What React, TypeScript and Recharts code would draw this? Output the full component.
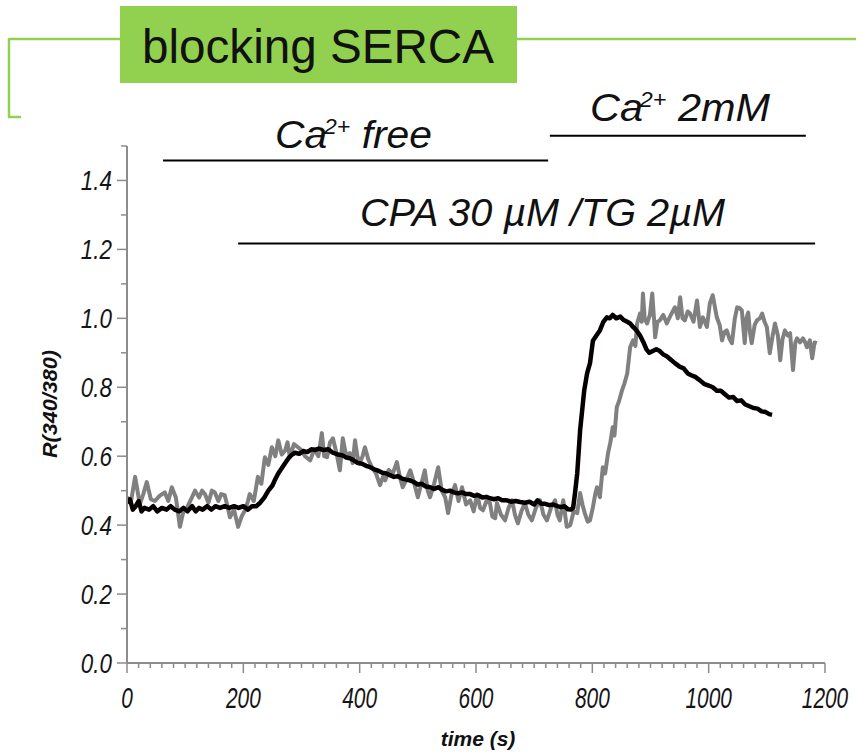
import { LineChart, Line, XAxis, YAxis, ReferenceLine } from "recharts";

const AXIS = "#8c8c8c";
const GREEN = "#92d050";
const FONT = "'Liberation Sans', Arial, Helvetica, sans-serif";

// black trace (time in s, ratio 340/380)
const blackTime = [
  0, 5, 10, 15, 20, 25, 30, 38, 45, 52, 60, 68, 75, 82, 90, 97, 104, 112, 118, 124,
  130, 138, 145, 152, 160, 168, 176, 184, 192, 200, 208, 215, 222, 229, 236, 243, 250, 254, 260, 266,
  272, 278, 284, 289, 296, 303, 310, 317, 323, 330, 338, 346, 354, 362, 370, 377, 383, 390, 397, 404,
  411, 418, 425, 432, 439, 446, 452, 459, 466, 473, 480, 486, 493, 500, 507, 514, 521, 528, 535, 542,
  549, 555, 562, 569, 576, 583, 590, 597, 604, 611, 618, 624, 631, 638, 645, 653, 660, 668, 676, 684,
  692, 700, 706, 712, 719, 726, 733, 740, 746, 752, 758, 763, 767, 770, 774, 779, 786, 791, 796, 801,
  807, 813, 819, 825, 830, 835, 841, 848, 854, 860, 865, 870, 876, 882, 888, 893, 898, 904, 910, 916,
  922, 928, 935, 942, 950, 957, 964, 970, 977, 985, 992, 1000, 1007, 1014, 1021, 1028, 1035, 1042, 1049, 1056,
  1063, 1070, 1077, 1084, 1091, 1098, 1104, 1109,
];
const blackRatio = [
  0.465, 0.475, 0.445, 0.455, 0.47, 0.44, 0.45, 0.445, 0.455, 0.44, 0.45, 0.445, 0.455, 0.445, 0.44, 0.45, 0.44, 0.455, 0.44, 0.45,
  0.445, 0.455, 0.445, 0.455, 0.45, 0.455, 0.45, 0.455, 0.45, 0.455, 0.445, 0.455, 0.455, 0.465, 0.48, 0.5, 0.515, 0.53, 0.55, 0.565,
  0.58, 0.595, 0.605, 0.61, 0.607, 0.615, 0.612, 0.62, 0.618, 0.622, 0.618, 0.62, 0.61, 0.605, 0.603, 0.596, 0.594, 0.588, 0.58, 0.578,
  0.572, 0.568, 0.562, 0.558, 0.552, 0.55, 0.545, 0.54, 0.542, 0.535, 0.532, 0.53, 0.525, 0.518, 0.52, 0.512, 0.51, 0.505, 0.51, 0.502,
  0.498, 0.5, 0.495, 0.492, 0.495, 0.49, 0.49, 0.485, 0.487, 0.48, 0.482, 0.478, 0.475, 0.478, 0.472, 0.472, 0.468, 0.47, 0.467, 0.465,
  0.468, 0.46, 0.472, 0.462, 0.462, 0.458, 0.46, 0.455, 0.452, 0.455, 0.446, 0.445, 0.45, 0.49, 0.55, 0.675, 0.79, 0.84, 0.87, 0.935,
  0.95, 0.965, 0.99, 1.003, 1.0, 1.01, 1.0, 1.005, 0.995, 0.99, 0.985, 0.975, 0.965, 0.95, 0.93, 0.91, 0.9, 0.905, 0.91, 0.905,
  0.895, 0.89, 0.88, 0.87, 0.86, 0.855, 0.84, 0.835, 0.83, 0.82, 0.81, 0.805, 0.8, 0.79, 0.79, 0.78, 0.77, 0.772, 0.76, 0.762,
  0.75, 0.745, 0.74, 0.738, 0.73, 0.728, 0.722, 0.72,
];

// grey trace
const greyTime = [
  0, 7, 14, 18, 22, 28, 34, 41, 48, 56, 65, 71, 77, 84, 91, 97, 103, 110, 117, 124,
  129, 134, 140, 146, 151, 157, 162, 168, 172, 177, 184, 191, 197, 203, 208, 211, 218, 225, 231, 237,
  243, 249, 255, 260, 266, 272, 276, 280, 287, 294, 300, 306, 315, 322, 329, 335, 339, 344, 349, 354,
  360, 366, 371, 377, 383, 388, 392, 396, 400, 405, 409, 415, 421, 428, 435, 440, 444, 450, 457, 464,
  469, 474, 480, 487, 494, 500, 506, 512, 517, 521, 528, 535, 541, 547, 552, 558, 564, 570, 576, 583,
  590, 596, 602, 607, 612, 618, 624, 628, 633, 636, 643, 650, 656, 662, 667, 672, 678, 684, 690, 696,
  703, 710, 716, 722, 729, 736, 740, 744, 750, 756, 762, 768, 774, 779, 783, 787, 792, 796, 801, 805,
  808, 813, 818, 822, 827, 831, 835, 838, 842, 846, 851, 855, 860, 865, 870, 874, 877, 882, 885, 887,
  890, 894, 899, 903, 906, 908, 912, 916, 922, 928, 935, 942, 947, 951, 955, 959, 964, 968, 974, 980,
  985, 990, 997, 1002, 1007, 1014, 1019, 1023, 1027, 1031, 1036, 1040, 1045, 1049, 1053, 1057, 1062, 1065, 1068, 1071,
  1074, 1079, 1083, 1088, 1092, 1096, 1100, 1105, 1110, 1114, 1119, 1123, 1127, 1131, 1136, 1140, 1145, 1149, 1152, 1157,
  1162, 1166, 1169, 1174, 1178, 1182, 1186,
];
const greyRatio = [
  0.48, 0.47, 0.54, 0.5, 0.46, 0.49, 0.525, 0.475, 0.47, 0.485, 0.495, 0.47, 0.51, 0.48, 0.395, 0.44, 0.45, 0.475, 0.5, 0.48,
  0.5, 0.49, 0.465, 0.5, 0.495, 0.47, 0.49, 0.487, 0.46, 0.423, 0.445, 0.395, 0.425, 0.443, 0.47, 0.49, 0.47, 0.54, 0.52, 0.597,
  0.575, 0.626, 0.6, 0.646, 0.605, 0.617, 0.64, 0.597, 0.635, 0.626, 0.617, 0.6, 0.588, 0.62, 0.6, 0.667, 0.6, 0.597, 0.64, 0.652,
  0.61, 0.559, 0.652, 0.6, 0.609, 0.58, 0.646, 0.6, 0.58, 0.6, 0.626, 0.59, 0.568, 0.55, 0.516, 0.54, 0.53, 0.56, 0.55, 0.583,
  0.54, 0.51, 0.53, 0.559, 0.52, 0.481, 0.52, 0.559, 0.5, 0.481, 0.52, 0.568, 0.5, 0.481, 0.435, 0.49, 0.516, 0.47, 0.51, 0.46,
  0.472, 0.44, 0.49, 0.45, 0.443, 0.47, 0.464, 0.425, 0.42, 0.464, 0.43, 0.414, 0.45, 0.472, 0.43, 0.405, 0.44, 0.464, 0.43, 0.414,
  0.45, 0.472, 0.43, 0.414, 0.45, 0.472, 0.43, 0.414, 0.472, 0.395, 0.4, 0.44, 0.435, 0.493, 0.46, 0.435, 0.41, 0.414, 0.452, 0.49,
  0.51, 0.481, 0.568, 0.55, 0.609, 0.64, 0.684, 0.66, 0.742, 0.76, 0.791, 0.81, 0.84, 0.916, 0.936, 0.92, 0.985, 1.014, 0.99, 1.072,
  1.0, 0.985, 1.01, 1.072, 1.0, 0.945, 0.99, 0.994, 1.01, 0.985, 1.01, 1.032, 1.0, 1.061, 1.0, 0.994, 1.02, 1.014, 0.99, 1.052,
  0.975, 1.003, 0.975, 1.043, 1.067, 1.003, 0.98, 0.936, 0.96, 0.965, 0.94, 0.928, 1.0, 1.032, 1.03, 1.023, 0.928, 1.0, 1.017, 0.96,
  0.928, 0.98, 0.994, 1.0, 1.014, 0.99, 0.975, 0.899, 0.95, 0.985, 0.95, 0.878, 0.94, 0.965, 0.95, 0.957, 0.85, 0.93, 0.942, 0.93,
  0.942, 0.93, 0.916, 0.936, 0.884, 0.93, 0.928,
];

// protocol bars above the traces (time range, drawn at a ratio level)
const barStart = [62, 727, 191];
const barEnd = [724, 1167, 1183];
const barLevel = [1.458, 1.53, 1.217];

const yTicks = [0, 0.1, 0.2, 0.3, 0.4, 0.5, 0.6, 0.7, 0.8, 0.9, 1.0, 1.1, 1.2, 1.3, 1.4, 1.5];
const xTicks: number[] = [];
for (let t = 0; t <= 1200; t += 20) xTicks.push(t);

const blackData = blackTime.map((t, i) => ({ t, r: blackRatio[i] }));
const greyData = greyTime.map((t, i) => ({ t, r: greyRatio[i] }));

function XTick(props: any) {
  const { x, y, payload } = props;
  const v = payload.value as number;
  const major = v % 200 === 0;
  return (
    <g>
      <line x1={x} x2={x} y1={y} y2={y + (major ? 10 : 5)} stroke={AXIS} strokeWidth={1.5} />
      {major && (
        // the original font is a narrow one, so squeeze it sideways
        <text
          transform={`translate(${x},${y + 45}) scale(0.72,1)`}
          textAnchor="middle"
          fontFamily={FONT}
          fontStyle="italic"
          fontSize={29}
          fill="#151515"
        >
          {String(v)}
        </text>
      )}
    </g>
  );
}

function YTick(props: any) {
  const { x, y, payload } = props;
  const v = payload.value as number;
  const major = Math.round(v * 10) % 2 === 0 && v < 1.45;
  return (
    <g>
      <line x1={x - (major ? 10 : 6)} x2={x} y1={y} y2={y} stroke={AXIS} strokeWidth={1.5} />
      {major && (
        <text
          transform={`translate(${x - 15},${y + 10}) scale(0.8,1)`}
          textAnchor="end"
          fontFamily={FONT}
          fontStyle="italic"
          fontSize={28}
          fill="#151515"
        >
          {v.toFixed(1)}
        </text>
      )}
    </g>
  );
}

function Sup({ base, sup, rest }: { base: string; sup: string; rest: string }) {
  return (
    <>
      <tspan>{base}</tspan>
      <tspan dy={-14} dx={-3} fontSize={22}>{sup}</tspan>
      <tspan dy={14}>{rest}</tspan>
    </>
  );
}

export default function App() {
  return (
    <div style={{ position: "absolute", left: 0, top: 0, width: 856, height: 756, background: "#fff" }}>
      <LineChart
        width={856}
        height={756}
        margin={{ top: 146, right: 31, bottom: 53, left: 67 }}
      >
        <XAxis
          dataKey="t"
          type="number"
          domain={[0, 1200]}
          ticks={xTicks}
          interval={0}
          height={40}
          tickSize={0}
          tickMargin={0}
          tickLine={false}
          axisLine={{ stroke: AXIS, strokeWidth: 2 }}
          tick={<XTick />}
          allowDataOverflow
        />
        <YAxis
          type="number"
          domain={[0, 1.5]}
          ticks={yTicks}
          interval={0}
          width={60}
          tickSize={0}
          tickMargin={0}
          tickLine={false}
          axisLine={{ stroke: AXIS, strokeWidth: 2 }}
          tick={<YTick />}
          allowDataOverflow
        />
        {barStart.map((s, i) => (
          <ReferenceLine
            key={i}
            segment={[
              { x: s, y: barLevel[i] },
              { x: barEnd[i], y: barLevel[i] },
            ]}
            stroke="#000"
            strokeWidth={2}
            ifOverflow="visible"
          />
        ))}
        <Line
          data={greyData}
          dataKey="r"
          type="linear"
          stroke="#808080"
          strokeWidth={4}
          strokeLinejoin="round"
          dot={false}
          activeDot={false}
          isAnimationActive={false}
        />
        <Line
          data={blackData}
          dataKey="r"
          type="linear"
          stroke="#050000"
          strokeWidth={4.5}
          strokeLinejoin="round"
          dot={false}
          activeDot={false}
          isAnimationActive={false}
        />
      </LineChart>
      <svg
        width={856}
        height={756}
        style={{ position: "absolute", left: 0, top: 0, pointerEvents: "none" }}
      >
        <g stroke={GREEN} strokeWidth={2.5} fill="none">
          <line x1={9} y1={39} x2={120} y2={39} />
          <line x1={517} y1={39} x2={856} y2={39} />
          <line x1={9} y1={38} x2={9} y2={117} />
          <line x1={8} y1={117} x2={21} y2={117} />
        </g>
        <rect x={120} y={6} width={397} height={77} fill={GREEN} />
        <text
          x={142}
          y={63}
          fontFamily={FONT}
          fontSize={48}
          fill="#111"
          textLength={352}
          lengthAdjust="spacingAndGlyphs"
        >
          blocking SERCA
        </text>
        <g fontFamily={FONT} fontStyle="italic" fontSize={39} fill="#111">
          <text x={275} y={148} textLength={157} lengthAdjust="spacingAndGlyphs">
            <Sup base="Ca" sup="2+" rest=" free" />
          </text>
          <text x={590} y={121} textLength={180} lengthAdjust="spacingAndGlyphs">
            <Sup base="Ca" sup="2+" rest=" 2mM" />
          </text>
          <text x={360} y={226} textLength={365} lengthAdjust="spacingAndGlyphs">
            CPA 30 µM /TG 2µM
          </text>
        </g>
        <text
          x={57}
          y={404}
          transform="rotate(-90 57 404)"
          textAnchor="middle"
          fontFamily={FONT}
          fontStyle="italic"
          fontWeight="bold"
          fontSize={21}
          fill="#111"
          textLength={108}
          lengthAdjust="spacingAndGlyphs"
        >
          R(340/380)
        </text>
        <text
          x={478}
          y={746}
          textAnchor="middle"
          fontFamily={FONT}
          fontStyle="italic"
          fontWeight="bold"
          fontSize={21}
          fill="#111"
        >
          time (s)
        </text>
      </svg>
    </div>
  );
}
